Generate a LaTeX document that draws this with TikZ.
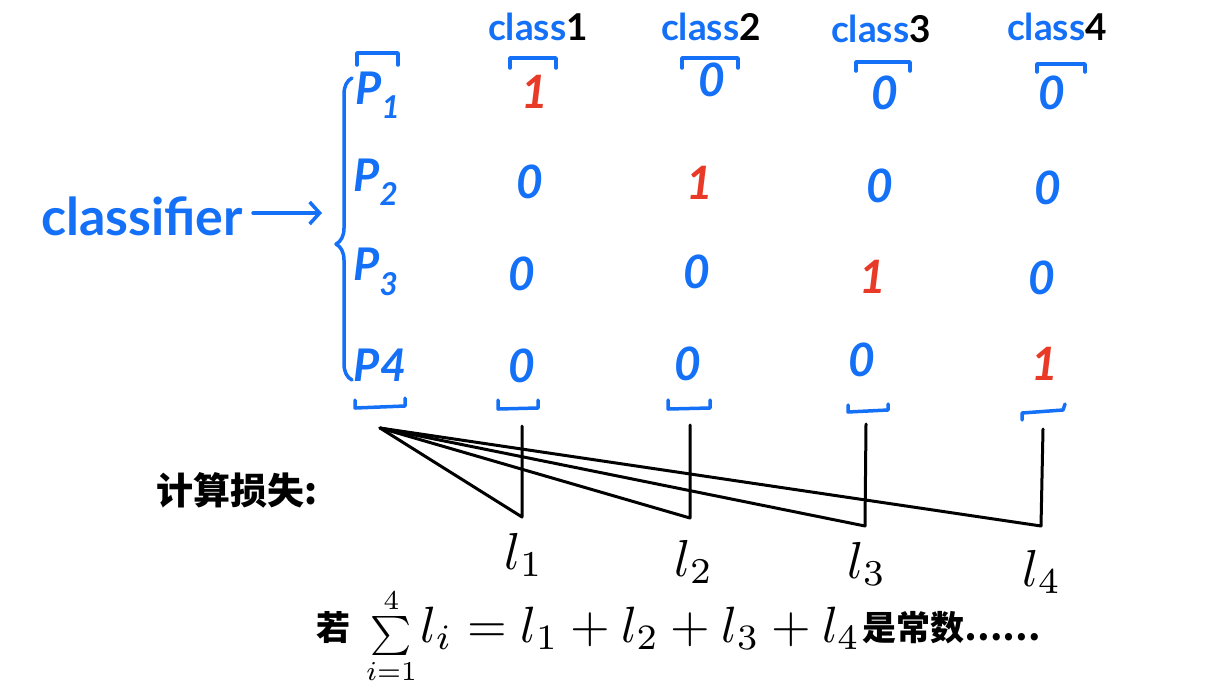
\documentclass[tikz,border=0pt]{standalone}
\usepackage{fontspec}
\usepackage{graphicx}
\setmainfont{Lato}
\newfontfamily\cjk{Noto Sans CJK SC}
\usetikzlibrary{decorations.pathreplacing,arrows.meta}
\definecolor{hb}{RGB}{20,112,246}
\definecolor{hr}{RGB}{232,58,38}
\begin{document}
\begin{tikzpicture}[x=1pt,y=-1pt,
  pen/.style={line width=3pt,line cap=round,line join=round},
  bpen/.style={line width=3.5pt,line cap=round,line join=round,draw=hb},
  lbl/.style={font=\fontsize{37}{37}\selectfont\bfseries,text=hb,inner sep=0pt},
  pl/.style={font=\fontsize{45}{45}\selectfont\bfseries\itshape,text=hb,inner sep=0pt},
  zero/.style={font=\fontsize{46}{46}\selectfont\bfseries\itshape,text=hb,inner sep=0pt},
  one/.style={zero,text=hr},
  ll/.style={inner sep=0pt},
  cn/.style={font=\fontsize{37}{37}\selectfont\cjk\bfseries,inner sep=0pt}
]
\useasboundingbox (0,0) rectangle (1212,686);

% classifier and arrow
\node[font=\fontsize{52}{52}\selectfont\bfseries,text=hb,inner sep=0pt] (cls) at (142,216) {classifier};
\coordinate (btip) at (322,213);
\draw[bpen,-{Straight Barb[length=10pt,width=22pt,line width=3.5pt]}] (cls.east) ++(10,-3) coordinate (as) -- (btip);

% brace
\draw[bpen,decorate,decoration={brace,amplitude=16pt,aspect=0.45}] (352,380) -- (352,78);

% row labels
\node[pl] (p1) at (378,95) {P\textsubscript{1}};
\node[pl] (p2) at (376,182) {P\textsubscript{2}};
\node[pl] (p3) at (376,272) {P\textsubscript{3}};
\node[pl] (p4) at (380,365) {P4};
\draw[bpen] (357,65) -- (357,53) -- (398,53) -- (398,65);
\draw[bpen] (355,400) -- (355,408) -- (405,406) -- (405,398);

% column headers
\node[lbl] (c1) at (538,27) {class\textcolor{black}{1}};
\node[lbl] (c2) at (711,27) {class\textcolor{black}{2}};
\node[lbl] (c3) at (881,29) {class\textcolor{black}{3}};
\node[lbl] (c4) at (1057,27) {class\textcolor{black}{4}};

% top brackets
\draw[bpen] (510,68) -- (510,58) -- (556,58) -- (556,68);
\draw[bpen] (682,68) -- (682,58) -- (738,58) -- (738,68);
\draw[bpen] (856,71) -- (856,62) -- (910,62) -- (910,71);
\draw[bpen] (1037,72) -- (1037,64) -- (1085,64) -- (1085,72);

% matrix
\node[one]  (m11) at (535,92) {1};
\node[zero] (m12) at (712,80) {0};
\node[zero] (m13) at (885,93) {0};
\node[zero] (m14) at (1052,93) {0};
\node[zero] (m21) at (530,182) {0};
\node[one]  (m22) at (700,183) {1};
\node[zero] (m23) at (880,186) {0};
\node[zero] (m24) at (1048,188) {0};
\node[zero] (m31) at (522,274) {0};
\node[zero] (m32) at (697,272) {0};
\node[one]  (m33) at (873,277) {1};
\node[zero] (m34) at (1042,278) {0};
\node[zero] (m41) at (522,366) {0};
\node[zero] (m42) at (688,364) {0};
\node[zero] (m43) at (862,360) {0};
\node[one]  (m44) at (1045,364) {1};

% bottom brackets
\draw[bpen] (498,400) -- (498,409) -- (538,408) -- (538,400);
\draw[bpen] (668,400) -- (668,409) -- (710,408) -- (710,400);
\draw[bpen] (848,405) -- (848,412) -- (888,410) -- (888,404);
\draw[bpen] (1022,420) -- (1022,413) -- (1063,410) -- (1065,404);

% loss lines
\coordinate (apex) at (380,428);
\coordinate (t1) at (522,426); \coordinate (b1) at (522,517);
\coordinate (t2) at (690,425); \coordinate (b2) at (690,518);
\coordinate (t3) at (866,424); \coordinate (b3) at (865,526);
\coordinate (t4) at (1043,429); \coordinate (b4) at (1041,526);
\draw[pen] (apex) -- (b1) -- (t1);
\draw[pen] (apex) -- (b2) -- (t2);
\draw[pen] (apex) -- (b3) -- (t3);
\draw[pen] (apex) -- (b4) -- (t4);

% loss labels
\node[ll] (l1) at (524,555) {\scalebox{5.2}{$l_1$}};
\node[ll] (l2) at (694,562) {\scalebox{5.2}{$l_2$}};
\node[ll] (l3) at (867,564) {\scalebox{5.2}{$l_3$}};
\node[ll] (l4) at (1042,572) {\scalebox{5.2}{$l_4$}};

\node[cn,anchor=west] (jisuan) at (156,490) {计算损失:};

\node[anchor=west,inner sep=0pt,font=\fontsize{34}{34}\selectfont] (formula) at (316,636)
  {{\cjk\bfseries 若}\hspace{16pt}\raisebox{-6pt}{\scalebox{3.9}{\normalsize$\sum\limits_{i=1}^{4}$}}\hspace{4pt}\raisebox{-2pt}{\scalebox{5.1}{\normalsize$l_i = l_1 + l_2 + l_3 + l_4$}}\hspace{2pt}{\cjk\bfseries 是常数……}};
\end{tikzpicture}
\end{document}
